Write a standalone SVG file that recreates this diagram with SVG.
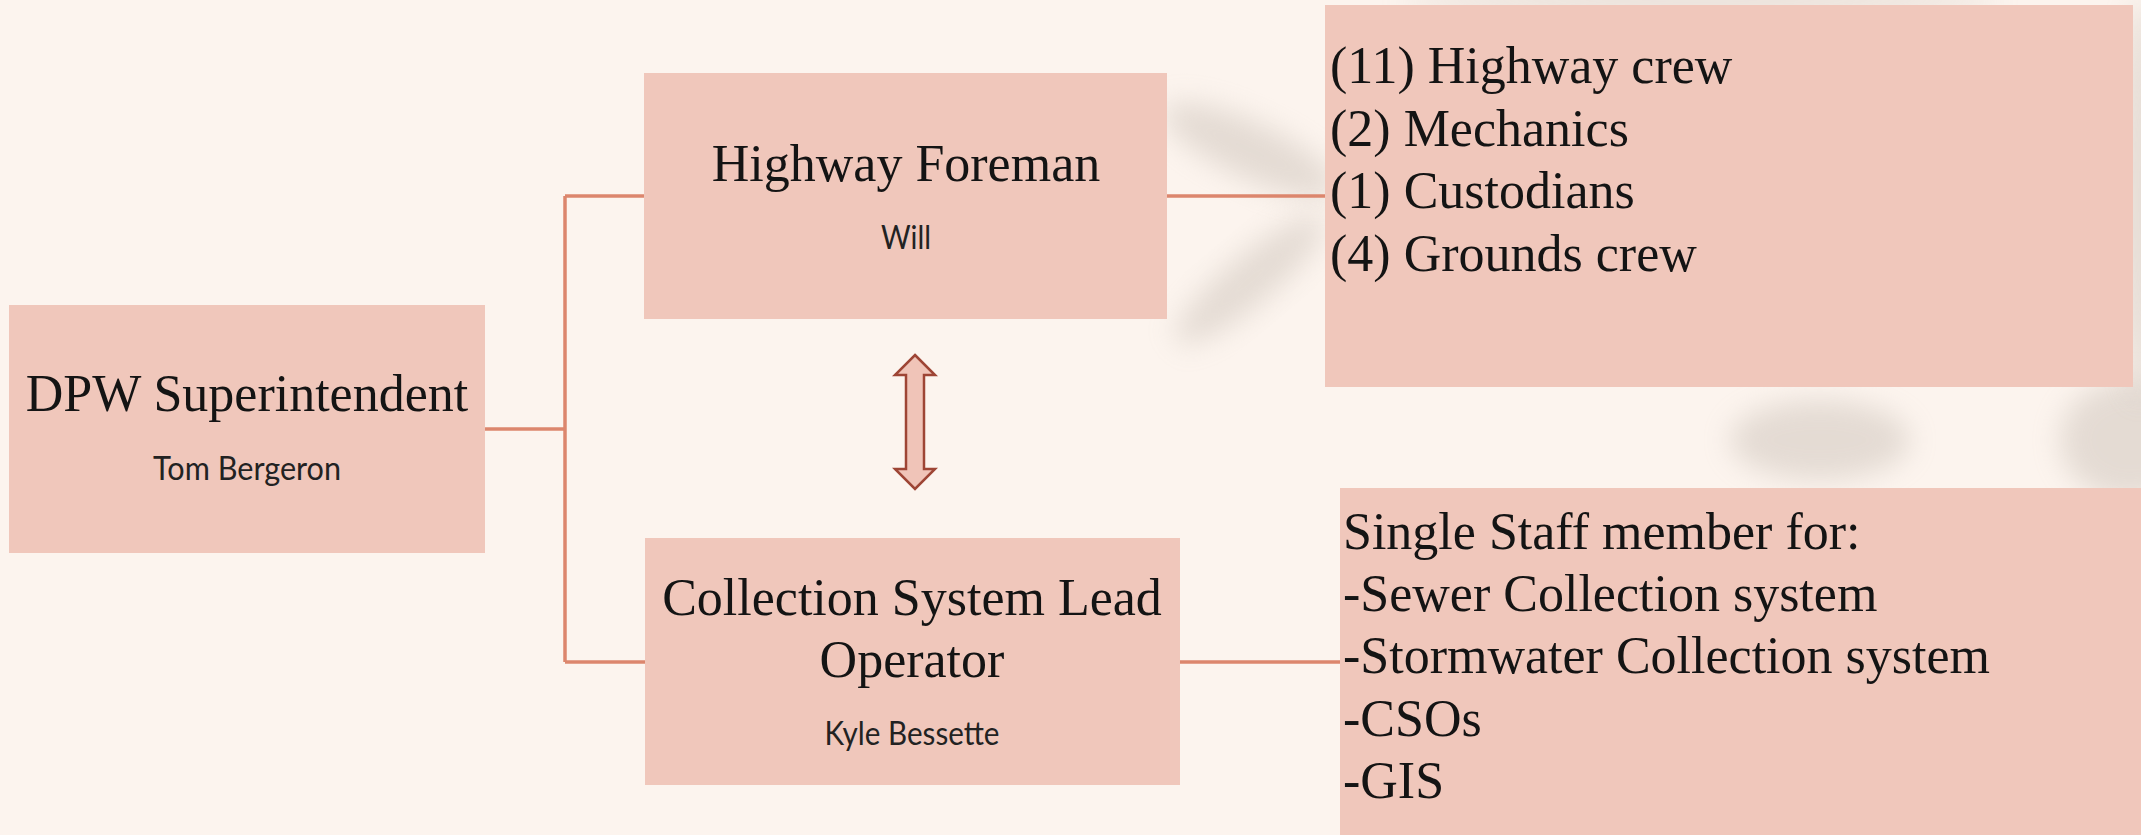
<svg xmlns="http://www.w3.org/2000/svg" width="2141" height="835" viewBox="0 0 2141 835">
  <defs>
    <filter id="blur" x="-50%" y="-50%" width="200%" height="200%">
      <feGaussianBlur stdDeviation="14"/>
    </filter>
    <style>
      .box { fill: #f0c7bb; }
      .title { font-family: "Liberation Serif", serif; font-size: 52px; fill: #141414; text-anchor: middle; }
      .sub { font-family: Lato, "Liberation Sans", sans-serif; font-size: 32px; fill: #222; text-anchor: middle; }
      .list { font-family: "Liberation Serif", serif; font-size: 52px; fill: #141414; }
      .conn { stroke: #dc866d; stroke-width: 3.5; fill: none; }
      .shadow { fill: #b8ada3; opacity: 0.35; filter: url(#blur); }
    </style>
  </defs>

  <rect width="2141" height="835" fill="#fcf4ee"/>

  <g id="background-shadows">
    <ellipse class="shadow" cx="1250" cy="150" rx="95" ry="28" transform="rotate(25 1250 150)"/>
    <ellipse class="shadow" cx="1250" cy="280" rx="95" ry="24" transform="rotate(-40 1250 280)"/>
    <ellipse class="shadow" cx="1820" cy="440" rx="90" ry="40"/>
    <ellipse class="shadow" cx="2130" cy="440" rx="70" ry="60"/>
    <ellipse class="shadow" cx="2141" cy="200" rx="20" ry="200"/>
    <ellipse class="shadow" cx="1700" cy="0" rx="300" ry="12"/>
  </g>

  <g id="connectors">
    <path class="conn" d="M485,429 H565 M565,196 V662 M565,196 H644 M565,662 H645"/>
    <path class="conn" d="M1167,196 H1325"/>
    <path class="conn" d="M1180,662 H1340"/>
    <path d="M915,355 L935,375 L924,375 L924,469 L935,469 L915,489 L895,469 L906,469 L906,375 L895,375 Z" fill="#f0c4b8" stroke="#9e4535" stroke-width="2.5" stroke-linejoin="miter"/>
  </g>

  <g id="dpw-superintendent">
    <rect class="box" x="9" y="305" width="476" height="248"/>
    <text class="title" x="247" y="411">DPW Superintendent</text>
    <text class="sub" x="247" y="480" textLength="188" lengthAdjust="spacingAndGlyphs">Tom Bergeron</text>
  </g>

  <g id="highway-foreman">
    <rect class="box" x="644" y="73" width="523" height="246"/>
    <text class="title" x="906" y="181">Highway Foreman</text>
    <text class="sub" x="906" y="249" textLength="50" lengthAdjust="spacingAndGlyphs">Will</text>
  </g>

  <g id="collection-system-lead">
    <rect class="box" x="645" y="538" width="535" height="247"/>
    <text class="title" x="912" y="615">Collection System Lead</text>
    <text class="title" x="912" y="677">Operator</text>
    <text class="sub" x="912" y="745" textLength="175" lengthAdjust="spacingAndGlyphs">Kyle Bessette</text>
  </g>

  <g id="highway-staff">
    <rect class="box" x="1325" y="5" width="808" height="382"/>
    <text class="list" x="1330" y="83">(11) Highway crew</text>
    <text class="list" x="1330" y="146">(2) Mechanics</text>
    <text class="list" x="1330" y="208">(1) Custodians</text>
    <text class="list" x="1330" y="271">(4) Grounds crew</text>
  </g>

  <g id="collection-staff">
    <rect class="box" x="1340" y="488" width="801" height="347"/>
    <text class="list" x="1343" y="549">Single Staff member for:</text>
    <text class="list" x="1343" y="611">-Sewer Collection system</text>
    <text class="list" x="1343" y="673">-Stormwater Collection system</text>
    <text class="list" x="1343" y="736">-CSOs</text>
    <text class="list" x="1343" y="798">-GIS</text>
  </g>
</svg>
